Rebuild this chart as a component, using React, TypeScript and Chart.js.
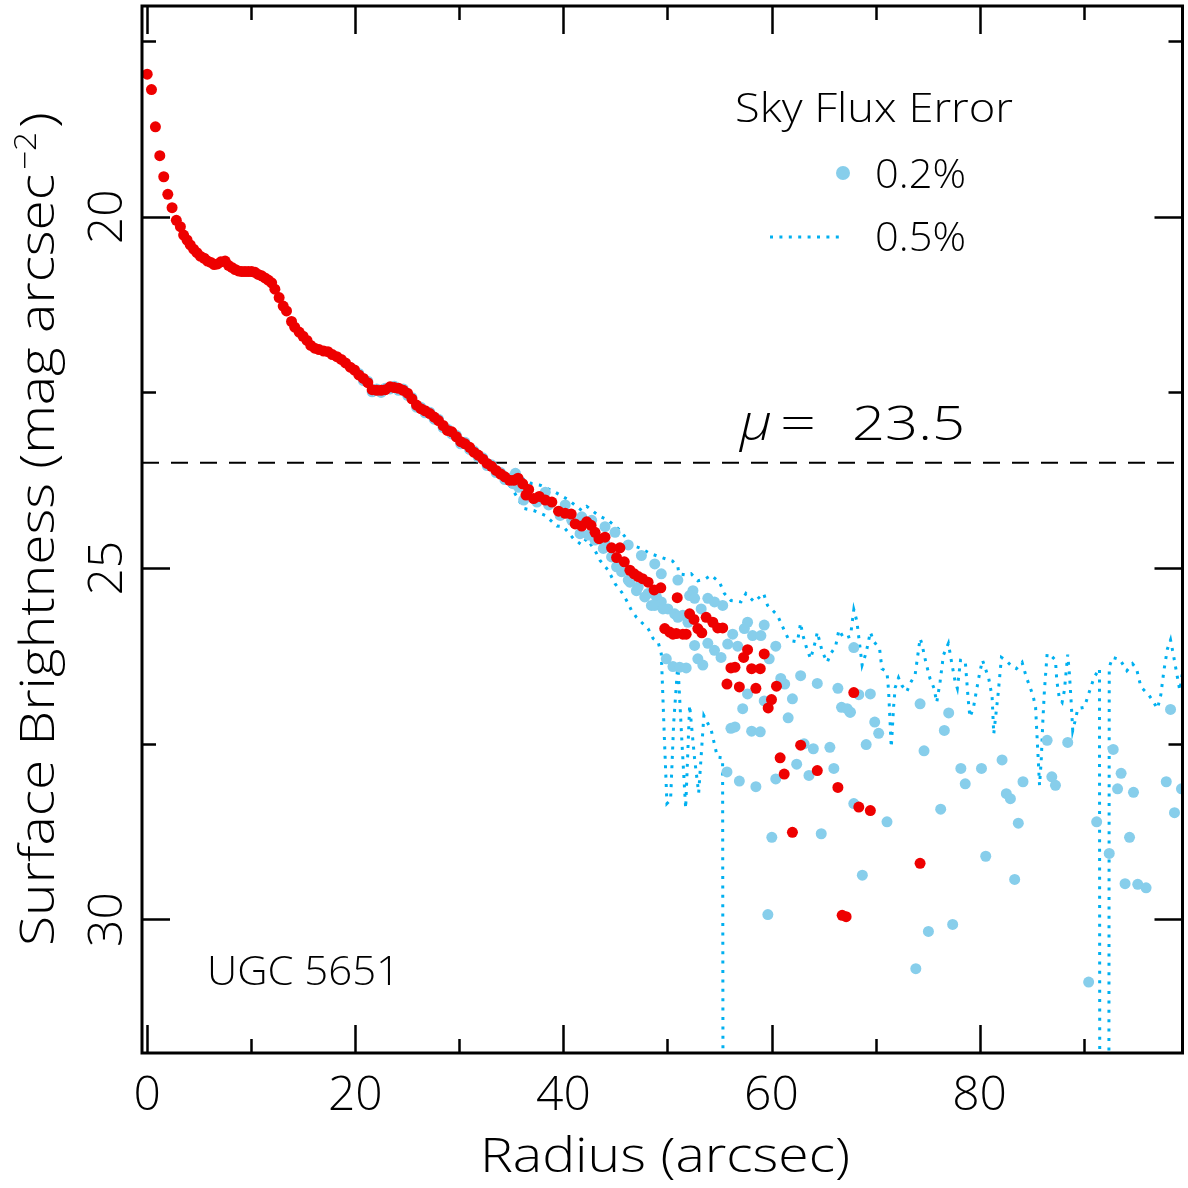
import React, { useEffect, useRef } from "react";
import { Chart, registerables } from "chart.js";

Chart.register(...registerables);

// ---------- DATA ----------
// Galaxy profile (red)
const redRadius = [0.0,0.41,0.79,1.21,1.59,1.98,2.39,2.80,3.19,3.50,
3.83,4.14,4.46,4.78,5.10,5.48,5.80,6.12,6.44,6.76,
7.08,7.49,7.81,8.13,8.45,8.76,9.09,9.40,9.72,10.04,
10.36,10.67,11.00,11.32,11.63,11.96,12.27,12.68,13.07,13.39,
13.87,14.18,14.60,14.98,15.36,15.72,16.10,16.51,16.96,17.37,
17.79,18.23,18.65,19.06,19.51,19.92,20.34,20.78,21.20,21.62,
22.06,22.48,22.89,23.34,23.75,24.16,24.61,25.02,25.44,25.88,
26.30,26.71,27.16,27.58,27.99,28.44,28.85,29.27,29.71,30.13,
30.54,30.99,31.40,31.81,32.26,32.67,33.09,33.53,33.96,34.37,
34.82,35.23,35.64,36.09,36.40,36.66,37.14,37.68,38.26,38.89,
39.53,40.17,40.75,41.13,41.76,42.24,42.66,43.04,43.42,44.00,
44.63,45.11,45.43,45.85,46.39,46.80,47.19,47.60,48.14,48.72,
49.36,49.74,50.21,50.53,50.85,50.94,51.48,51.80,52.13,52.55,
52.92,53.30,53.72,54.36,54.83,55.31,55.72,56.10,56.49,56.91,
57.32,57.70,58.09,58.50,58.92,59.30,59.68,60.00,60.48,60.83,
61.22,62.01,62.80,64.40,66.38,66.79,67.17,67.91,68.39,69.50,
74.28];
const redMag = [17.97,18.19,18.72,19.13,19.43,19.68,19.87,20.05,20.14,20.26,
20.33,20.40,20.46,20.51,20.56,20.59,20.63,20.65,20.68,20.67,
20.64,20.63,20.69,20.72,20.75,20.77,20.78,20.78,20.78,20.78,
20.79,20.82,20.84,20.87,20.90,20.94,21.03,21.15,21.27,21.34,
21.49,21.57,21.64,21.70,21.76,21.83,21.87,21.89,21.91,21.92,
21.96,21.99,22.03,22.08,22.14,22.18,22.25,22.30,22.36,22.46,
22.47,22.47,22.46,22.42,22.43,22.44,22.47,22.51,22.59,22.68,
22.73,22.76,22.80,22.85,22.90,22.97,23.04,23.06,23.13,23.20,
23.23,23.28,23.35,23.39,23.45,23.51,23.55,23.61,23.66,23.70,
23.75,23.75,23.72,23.80,23.96,23.88,24.01,23.98,24.03,24.06,
24.19,24.22,24.23,24.37,24.40,24.34,24.39,24.49,24.58,24.56,
24.71,24.85,24.71,24.91,25.03,25.08,25.12,25.15,25.20,25.31,
25.28,25.86,25.91,25.94,25.93,25.42,25.94,25.94,25.65,25.73,
25.86,25.92,25.70,25.77,25.85,25.85,26.65,26.42,26.41,26.69,
26.27,26.16,26.43,26.71,26.43,26.22,26.99,26.87,26.68,27.70,
27.93,28.76,27.52,27.88,28.12,29.94,29.96,26.77,28.40,28.45,
29.20];

// Sky flux error 0.2% (light blue dots)
const blueRadius = [20.34,21.20,22.06,22.89,23.75,24.61,25.44,26.30,27.16,27.99,
28.85,29.71,30.54,31.40,32.26,33.09,33.96,34.82,35.39,
20.78,21.62,22.48,23.34,24.16,25.02,25.88,26.71,27.58,28.44,
29.27,30.13,30.99,31.81,32.67,33.53,34.37,35.23,35.70,
36.18,37.46,38.58,39.69,40.80,41.60,42.40,43.04,44.00,44.63,
45.11,45.59,46.39,47.19,48.14,48.94,48.46,49.41,50.04,50.69,
49.89,50.53,51.17,51.80,38.26,40.17,41.76,42.72,44.00,44.96,
46.23,47.50,48.78,49.41,51.00,52.45,43.84,46.23,47.02,47.82,
48.78,49.57,51.48,51.97,51.00,52.13,52.61,53.24,53.88,54.52,
55.31,52.61,53.88,54.52,55.15,52.92,53.40,55.79,56.75,56.27,
57.39,57.70,58.18,58.98,59.30,60.41,59.78,60.89,61.27,62.80,
64.40,66.38,66.73,67.59,69.92,70.30,67.91,69.50,69.10,59.30,
62.01,57.70,57.23,56.10,56.49,58.09,58.92,61.60,63.13,64.02,
65.61,62.42,63.60,65.99,55.72,56.91,58.50,60.41,67.91,71.10,
60.03,64.78,68.73,59.65,68.39,67.53,74.28,77.03,76.61,74.66,
78.20,80.18,78.62,82.16,84.17,82.57,82.96,76.26,83.72,80.59,
83.37,86.49,88.47,86.94,87.29,91.25,92.46,92.84,93.60,93.26,
94.79,94.41,98.35,97.94,99.40,98.73,75.08,77.41,73.87,90.48,
93.98,95.20,96.00,67.27];
const blueMag = [22.23,22.34,22.45,22.44,22.41,22.45,22.57,22.71,22.78,22.88,
23.02,23.11,23.21,23.33,23.43,23.53,23.64,23.72,23.65,
22.33,22.49,22.50,22.45,22.47,22.54,22.71,22.79,22.88,23.00,
23.09,23.23,23.31,23.42,23.54,23.64,23.74,23.80,23.85,
24.03,24.06,24.10,24.25,24.32,24.51,24.53,24.60,24.65,24.84,
24.98,25.05,25.20,25.27,25.36,25.41,25.53,25.48,25.58,25.65,
26.29,26.40,26.41,26.42,23.92,24.10,24.27,24.32,24.41,24.49,
24.67,24.82,24.94,25.08,25.17,25.32,24.72,25.17,25.32,25.41,
25.53,25.58,25.67,25.77,25.70,25.39,25.43,25.58,25.43,25.48,
25.53,26.10,26.07,26.17,26.27,26.29,26.38,26.08,26.11,25.94,
25.86,25.77,25.96,25.96,25.81,26.11,26.29,26.57,26.65,26.53,
26.64,26.71,26.98,27.05,27.19,27.35,26.13,26.79,27.51,26.89,
26.86,26.79,27.00,27.28,27.26,27.32,27.33,27.13,27.50,27.57,
27.55,27.79,27.95,27.85,27.90,28.03,28.11,28.00,28.35,28.61,
28.83,28.78,29.37,29.93,26.80,27.05,26.93,27.06,27.31,27.60,
27.85,27.85,28.07,27.73,28.04,28.21,28.28,28.43,28.63,29.10,
29.43,27.45,27.48,27.97,28.09,28.61,29.06,27.58,27.92,28.14,
28.19,28.83,27.01,28.04,28.14,28.48,30.17,30.07,30.70,30.89,
29.49,29.50,29.55,27.00];

// Sky flux error 0.5% (dotted): bright-side bound
const dotUpperRadius = [20.0,21.0,22.0,23.0,24.0,25.0,26.0,27.0,28.0,29.0,
30.0,31.0,32.0,33.0,34.0,35.0,36.0,37.0,37.78,39.22,
40.49,41.76,42.24,43.36,44.31,45.43,46.54,47.50,48.30,49.26,
50.50,51.00,51.10,51.97,52.28,52.92,53.56,54.20,55.00,55.47,
56.10,57.06,57.54,58.34,59.24,59.62,60.57,61.21,61.69,62.49,
62.80,62.97,63.44,63.76,64.24,64.40,64.88,65.36,65.67,66.15,
66.48,66.96,67.59,67.91,68.20,68.71,69.10,69.50,69.82,70.39,
70.61,71.10,71.25,71.51,71.74,71.89,72.21,72.53,73.00,73.32,
73.80,74.28,74.44,74.82,75.23,75.62,75.88,76.20,76.52,77.00,
77.31,77.63,77.86,78.17,78.62,78.91,79.07,79.39,79.70,80.02,
80.28,80.88,81.20,81.36,81.78,82.10,82.51,83.12,83.53,84.08,
84.49,85.13,85.38,85.54,85.76,85.92,86.08,86.23,86.49,86.78,
87.29,87.42,87.67,87.93,88.15,88.47,88.63,88.79,88.95,89.27,
89.43,90.07,90.39,90.70,91.02,91.52,91.58,92.38,92.46,92.78,
93.48,94.15,94.69,95.08,95.50,96.29,96.61,97.09,97.41,97.72,
98.05,98.35,98.67,99.24,99.60];
const dotUpperMag = [22.16,22.30,22.44,22.42,22.41,22.48,22.66,22.75,22.86,23.01,
23.15,23.24,23.38,23.50,23.62,23.68,23.72,23.80,23.82,23.92,
24.03,24.18,24.12,24.25,24.32,24.46,24.67,24.72,24.79,24.84,
24.90,24.98,25.08,25.10,25.08,25.18,25.16,25.10,25.20,25.36,
25.46,25.48,25.36,25.48,25.36,25.53,25.67,25.88,26.03,26.05,
25.78,25.93,26.17,26.29,26.03,25.91,26.19,26.34,26.22,26.12,
25.88,26.00,25.97,25.59,25.75,26.38,26.20,25.91,26.04,26.15,
26.43,26.48,26.74,27.55,26.96,26.70,26.56,26.67,26.76,26.64,
26.52,26.00,26.07,26.33,26.57,26.71,26.91,26.62,26.24,26.07,
26.34,26.60,26.71,26.31,26.32,26.88,27.12,27.00,26.74,26.48,
26.31,26.57,26.83,27.36,26.79,26.27,26.31,26.40,26.43,26.34,
26.55,26.81,26.98,27.45,28.09,27.74,27.17,26.74,26.22,26.23,
26.31,26.60,26.86,26.91,26.74,26.23,26.50,26.88,27.31,27.12,
27.00,26.98,26.83,26.69,26.55,26.43,40.00,40.00,26.41,26.27,
26.30,26.46,26.36,26.43,26.69,26.81,26.88,27.00,26.81,26.45,
26.15,26.02,26.27,26.74,26.38];

// Sky flux error 0.5% (dotted): faint-side bound
const dotLowerRadius = [20.0,21.0,22.0,23.0,24.0,25.0,26.0,27.0,28.0,29.0,
30.0,31.0,32.0,33.0,34.0,35.0,36.18,37.14,38.26,39.37,
40.01,40.97,41.76,42.24,43.04,43.52,44.31,44.96,45.59,46.07,
46.54,47.02,47.50,48.14,48.62,49.10,49.41,49.70,49.95,50.30,
50.60,51.00,51.40,51.75,52.13,52.60,53.00,53.50,54.20,54.80,
55.30,55.40];
const dotLowerMag = [22.22,22.36,22.50,22.48,22.47,22.55,22.73,22.82,22.94,23.09,
23.23,23.33,23.47,23.60,23.72,23.85,24.15,24.18,24.25,24.40,
24.41,24.58,24.67,24.58,24.75,24.89,25.03,25.22,25.34,25.46,
25.60,25.70,25.77,25.86,26.00,26.05,26.22,27.40,28.35,28.30,
27.20,26.36,27.50,28.42,26.95,27.70,28.20,27.10,27.30,27.69,
27.70,40.00];

const muLimit = 23.5;
const xTicks = [0, 10, 20, 30, 40, 50, 60, 70, 80, 90];
const xTickLabels = [0, 20, 40, 60, 80];
const yTicks = [17.5, 20, 22.5, 25, 27.5, 30];
const yTickLabels = [20, 25, 30];

// ---------- STYLE ----------
const FONT = '"Open Sans", "DejaVu Sans", sans-serif';
const RED = "#ee0000";
const SKY = "#87ceeb";
const DEEP = "#00b0f0";

const pts = (xs: number[], ys: number[]) => xs.map((x, i) => ({ x, y: ys[i] }));

function drawText(
  ctx: CanvasRenderingContext2D,
  s: string,
  x: number,
  y: number,
  size: number,
  width?: number,
  italic = false,
  align: CanvasTextAlign = "left"
) {
  ctx.save();
  ctx.font = `${italic ? "italic " : ""}300 ${size}px ${FONT}`;
  ctx.textBaseline = "alphabetic";
  ctx.fillStyle = "#000";
  if (width) {
    const w = ctx.measureText(s).width;
    ctx.translate(x, y);
    ctx.scale(width / w, 1);
    ctx.textAlign = "left";
    ctx.fillText(s, 0, 0);
  } else {
    ctx.textAlign = align;
    ctx.fillText(s, x, y);
  }
  ctx.restore();
}

const framePlugin = {
  id: "frameAndText",
  afterDraw(chart: any) {
    const { ctx, chartArea: a, scales } = chart;
    const xs = scales.x;
    const ys = scales.y;
    ctx.save();
    ctx.strokeStyle = "#000";
    ctx.lineWidth = 3;
    ctx.strokeRect(a.left, a.top, a.right - a.left, a.bottom - a.top);
    ctx.lineWidth = 2.5;
    ctx.beginPath();
    for (const v of xTicks) {
      const px = Math.round(xs.getPixelForValue(v)) + 0.5;
      const len = v % 20 === 0 ? 28 : 14;
      ctx.moveTo(px, a.bottom);
      ctx.lineTo(px, a.bottom - len);
      ctx.moveTo(px, a.top);
      ctx.lineTo(px, a.top + len);
    }
    for (const v of yTicks) {
      const py = Math.round(ys.getPixelForValue(v)) + 0.5;
      const len = v % 5 === 0 ? 28 : 14;
      ctx.moveTo(a.left, py);
      ctx.lineTo(a.left + len, py);
      ctx.moveTo(a.right, py);
      ctx.lineTo(a.right - len, py);
    }
    ctx.stroke();

    // tick labels
    for (const v of xTickLabels) {
      drawText(ctx, String(v), xs.getPixelForValue(v), 1110, 48, undefined, false, "center");
    }
    for (const v of yTickLabels) {
      ctx.save();
      ctx.translate(122, ys.getPixelForValue(v));
      ctx.rotate(-Math.PI / 2);
      drawText(ctx, String(v), 0, 0, 48, undefined, false, "center");
      ctx.restore();
    }

    // axis titles
    drawText(ctx, "Radius (arcsec)", 480, 1172, 48, 370);
    ctx.save();
    ctx.translate(54, 946);
    ctx.rotate(-Math.PI / 2);
    drawText(ctx, "Surface Brightness (mag arcsec", 0, 0, 48, 772);
    drawText(ctx, "\u22122", 776, -18, 32, 38);
    drawText(ctx, ")", 818, 0, 48, 16);
    ctx.restore();

    // annotations
    drawText(ctx, "\u03bc", 740, 440, 50, 32, true);
    drawText(ctx, "=", 780, 440, 48, 36);
    drawText(ctx, "23.5", 852, 440, 48, 113);
    drawText(ctx, "UGC 5651", 207, 985, 41, 193);

    // legend
    drawText(ctx, "Sky Flux Error", 735, 122, 40, 278);
    ctx.fillStyle = SKY;
    ctx.beginPath();
    ctx.arc(843, 173, 7, 0, Math.PI * 2);
    ctx.fill();
    drawText(ctx, "0.2%", 875, 188, 40, 91);
    ctx.strokeStyle = DEEP;
    ctx.lineWidth = 3;
    ctx.setLineDash([3, 6.4]);
    ctx.beginPath();
    ctx.moveTo(770, 237);
    ctx.lineTo(840, 237);
    ctx.stroke();
    ctx.setLineDash([]);
    drawText(ctx, "0.5%", 875, 251, 40, 91);
    ctx.restore();
  },
};

export default function App() {
  const ref = useRef<HTMLCanvasElement | null>(null);
  useEffect(() => {
    if (!ref.current) return;
    const chart = new Chart(ref.current, {
      type: "scatter",
      data: {
        datasets: [
          {
            label: "profile",
            data: pts(redRadius, redMag),
            backgroundColor: RED,
            borderWidth: 0,
            pointRadius: 5.5,
            order: 0,
          },
          {
            label: "0.2%",
            data: pts(blueRadius, blueMag),
            backgroundColor: SKY,
            borderWidth: 0,
            pointRadius: 5.5,
            order: 1,
          },
          {
            label: "0.5% upper",
            data: pts(dotUpperRadius, dotUpperMag),
            showLine: true,
            borderColor: DEEP,
            borderWidth: 3,
            borderDash: [3, 6.4],
            pointRadius: 0,
            tension: 0,
            order: 2,
          },
          {
            label: "0.5% lower",
            data: pts(dotLowerRadius, dotLowerMag),
            showLine: true,
            borderColor: DEEP,
            borderWidth: 3,
            borderDash: [3, 6.4],
            pointRadius: 0,
            tension: 0,
            order: 3,
          },
          {
            label: "mu",
            data: [
              { x: -0.5, y: muLimit },
              { x: 99.5, y: muLimit },
            ],
            showLine: true,
            borderColor: "#000",
            borderWidth: 2,
            borderDash: [17, 12],
            pointRadius: 0,
            order: 4,
          },
        ],
      },
      options: {
        responsive: false,
        devicePixelRatio: 1,
        animation: false,
        layout: { padding: { left: 142, top: 6, right: 1, bottom: 135 } },
        plugins: { legend: { display: false }, tooltip: { enabled: false } },
        events: [],
        scales: {
          x: { type: "linear", min: -0.5, max: 99.5, display: false },
          y: { type: "linear", min: 17, max: 31.9, reverse: true, display: false },
        },
      },
      plugins: [framePlugin],
    });
    return () => chart.destroy();
  }, []);
  return (
    <div style={{ position: "absolute", left: 0, top: 0, width: 1188, height: 1188, background: "#fff" }}>
      <canvas ref={ref} width={1188} height={1188} style={{ width: 1188, height: 1188, display: "block" }} />
    </div>
  );
}
